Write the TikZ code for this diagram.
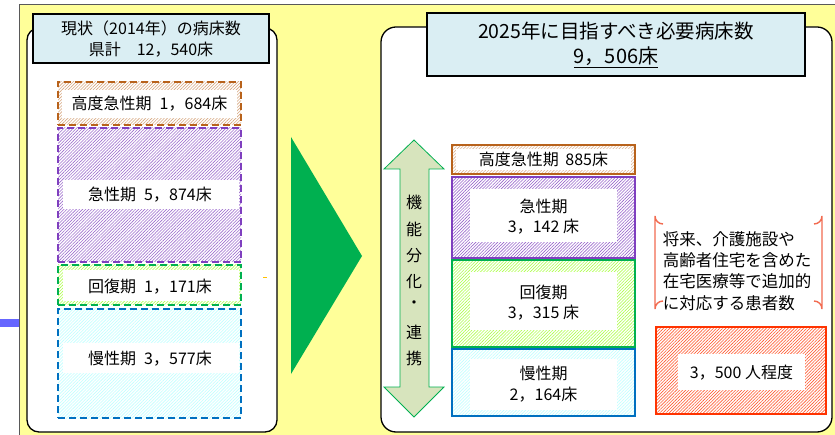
\documentclass[tikz,border=0pt]{standalone}
\usepackage{fontspec}
\setmainfont{Noto Sans CJK JP}
\usetikzlibrary{patterns.meta}
\definecolor{bgyellow}{HTML}{FFFF99}
\definecolor{hdrblue}{HTML}{DAEEF3}
\definecolor{cbrown}{HTML}{B8621B}
\definecolor{cpurple}{HTML}{7F3FBF}
\definecolor{cgreen}{HTML}{00B050}
\definecolor{cblue}{HTML}{0070C0}
\definecolor{cred}{HTML}{FF3300}
\definecolor{cbracket}{HTML}{F26B50}
\definecolor{arrowfill}{HTML}{D7E4BD}
\definecolor{barblue}{HTML}{6666FF}
\definecolor{corange}{HTML}{FFC000}
\tikzset{
  lbl/.style={inner sep=0pt, font=\fontsize{16}{19}\selectfont},
  hdr/.style={draw=black, line width=1.3pt, fill=hdrblue, inner sep=0pt},
  panel/.style={draw=black, line width=1.3pt, fill=white},
  hatchbox/.style={inner sep=0pt, pattern={Lines[angle=45,distance=2.2pt,line width=0.6pt]}},
  whitebox/.style={fill=white, inner sep=0pt},
  dashbox/.style={line width=2.7pt, dash pattern=on 7pt off 4pt, inner sep=0pt},
  solidbox/.style={line width=2.7pt, inner sep=0pt},
}
\begin{document}
\begin{tikzpicture}[x=1pt,y=-1pt]
\useasboundingbox (0,0) rectangle (835,435);
% background
\fill[bgyellow] (19,5) rectangle (835,435);
\draw[gray!70!black, line width=1pt] (19,435) -- (19,5) -- (835,5);
\fill[barblue] (0,319) rectangle (19,327);
% panels
\draw[panel, rounded corners=12pt] (27,28) rectangle (277,432);
\draw[panel, rounded corners=15pt] (381,27) rectangle (832,432);
% left header
\node[hdr, minimum width=236pt, minimum height=49pt] (lhdr) at (151,38.5) {};
\node[lbl] (lh1) at (151,28) {現状（2014年）の病床数};
\node[lbl] (lh2) at (151,50) {県計\hspace{1em}12，540床};
% right header
\node[hdr, minimum width=378pt, minimum height=63pt] (rhdr) at (616,44.5) {};
\node[lbl, font=\fontsize{19.5}{21}\selectfont] (rh1) at (616,31) {2025年に目指すべき必要病床数};
\node[lbl, font=\fontsize{20}{22}\selectfont] (rh2) at (616,57) {\underline{9，506床}};
% ---------- left boxes
% L1
\node[hatchbox, pattern color=cbrown!55, minimum width=183pt, minimum height=43pt] (l1) at (149.5,103.5) {};
\node[whitebox, minimum width=175pt, minimum height=28pt] (l1w) at (149.5,104) {};
\node[dashbox, draw=cbrown, minimum width=183pt, minimum height=43pt] (l1b) at (149.5,103.5) {};
\node[lbl] (l1t) at (149.5,104) {高度急性期\hspace{0.5em}1，684床};
% L2
\node[hatchbox, pattern color=cpurple!75, minimum width=183pt, minimum height=134pt] (l2) at (149.5,195) {};
\node[whitebox, minimum width=176pt, minimum height=29pt] (l2w) at (151,194.5) {};
\node[dashbox, draw=cpurple, minimum width=183pt, minimum height=134pt] (l2b) at (149.5,195) {};
\node[lbl] (l2t) at (150,195) {急性期\hspace{0.5em}5，874床};
% L3
\node[hatchbox, pattern color=green!45!yellow!70!white, minimum width=183pt, minimum height=40pt] (l3) at (149.5,285) {};
\node[whitebox, minimum width=176pt, minimum height=31pt] (l3w) at (151,286) {};
\node[dashbox, draw=cgreen, minimum width=183pt, minimum height=40pt] (l3b) at (149.5,285) {};
\node[lbl] (l3t) at (150,287) {回復期\hspace{0.5em}1，171床};
% L4
\node[hatchbox, pattern color=cyan!25, minimum width=183pt, minimum height=109pt] (l4) at (149.5,363.5) {};
\node[whitebox, minimum width=176pt, minimum height=30pt] (l4w) at (151,358) {};
\node[dashbox, draw=cblue, minimum width=183pt, minimum height=109pt] (l4b) at (149.5,363.5) {};
\node[lbl] (l4t) at (150,359) {慢性期\hspace{0.5em}3，577床};
% orange mark
\coordinate (om1) at (263,278);
\coordinate (om2) at (267,278);
\draw[corange, line width=1pt] (om1) -- (om2);
% green triangle
\fill[cgreen] (291,137) -- (362,256) -- (291,374) -- cycle;
% ---------- double arrow
\draw[cgreen, line width=0.8pt, fill=arrowfill]
  (414,140) -- (444,169) -- (429,169) -- (429,387) -- (444,387) -- (414,417)
  -- (384,387) -- (400,387) -- (400,169) -- (384,169) -- cycle;
\foreach \c/\yy/\nm in {機/202/a1,能/229/a2,分/256/a3,化/282/a4,・/305/a5,連/332/a6,携/358/a7}
  \node[lbl] (\nm) at (414,\yy) {\c};
% ---------- right boxes
% R1
\node[hatchbox, pattern color=cbrown!45, minimum width=183pt, minimum height=29pt] (r1) at (543.5,159.5) {};
\node[whitebox, minimum width=175pt, minimum height=21pt] (r1w) at (543.5,159.5) {};
\node[solidbox, draw=cbrown, minimum width=183pt, minimum height=29pt] (r1b) at (543.5,159.5) {};
\node[lbl] (r1t) at (543.5,159.5) {高度急性期\hspace{0.4em}885床};
% R2
\node[hatchbox, pattern color=cpurple!80, minimum width=183pt, minimum height=81pt] (r2) at (543.5,217.5) {};
\node[whitebox, minimum width=147pt, minimum height=53pt] (r2w) at (543.5,215.5) {};
\node[solidbox, draw=cpurple, minimum width=183pt, minimum height=81pt] (r2b) at (543.5,217.5) {};
\node[lbl] (r2t1) at (543.5,206) {急性期};
\node[lbl] (r2t2) at (543.5,227) {3，142 床};
% R3
\node[hatchbox, pattern color=green!45!yellow!70!white, minimum width=183pt, minimum height=87pt] (r3) at (543.5,303.5) {};
\node[whitebox, minimum width=147pt, minimum height=58pt] (r3w) at (543.5,301) {};
\node[solidbox, draw=cgreen, minimum width=183pt, minimum height=87pt] (r3b) at (543.5,303.5) {};
\node[lbl] (r3t1) at (543.5,292) {回復期};
\node[lbl] (r3t2) at (543.5,313) {3，315 床};
% R4
\node[hatchbox, pattern color=cyan!25, minimum width=183pt, minimum height=67pt] (r4) at (543.5,382.5) {};
\node[whitebox, minimum width=147pt, minimum height=51pt] (r4w) at (543.5,384.5) {};
\node[solidbox, draw=cblue, minimum width=183pt, minimum height=67pt] (r4b) at (543.5,382.5) {};
\node[lbl] (r4t1) at (543.5,373) {慢性期};
\node[lbl] (r4t2) at (543.5,395) {2，164床};
% ---------- bracket text
\node[lbl, font=\fontsize{16.5}{21.3}\selectfont, align=left] (brt) at (737,271) {将来、介護施設や\\高齢者住宅を含めた\\在宅医療等で追加的\\に対応する患者数};
\draw[cbracket, line width=1.4pt] (663,224) arc[start angle=90,end angle=180,radius=8] -- (655,309) arc[start angle=180,end angle=270,radius=8];
\draw[cbracket, line width=1.4pt] (814,224) arc[start angle=90,end angle=0,radius=8] -- (822,309) arc[start angle=0,end angle=-90,radius=8];
% red box
\node[hatchbox, pattern color=cred!80, minimum width=170pt, minimum height=87pt] (rb) at (741,370.5) {};
\node[whitebox, minimum width=127pt, minimum height=36pt] (rbw) at (741.5,372) {};
\node[solidbox, draw=cred, minimum width=170pt, minimum height=87pt] (rbb) at (741,370.5) {};
\node[lbl] (rbt) at (741.5,373) {3，500 人程度};
\end{tikzpicture}
\end{document}
